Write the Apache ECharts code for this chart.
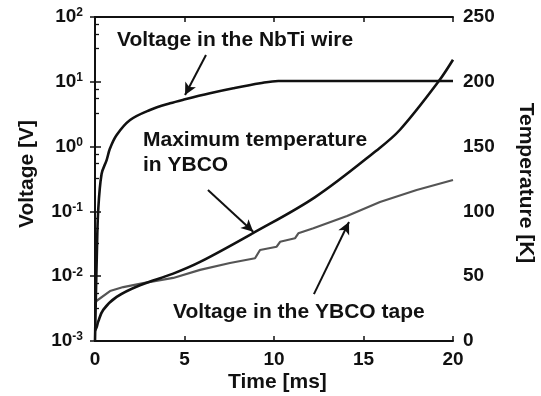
<!DOCTYPE html>
<html>
<head>
<meta charset="utf-8">
<script src="https://cdn.jsdelivr.net/npm/echarts@6/dist/echarts.min.js"></script>
<style>
  html, body { margin: 0; padding: 0; background: #ffffff; }
  #chart { width: 541px; height: 396px; }
</style>
</head>
<body>
<div id="chart"></div>
<script>
// Voltage across the NbTi wire [V] vs time [ms]
const nbtiTime    = [0, 0.05, 0.1, 0.18, 0.37, 0.65, 0.84, 1.21, 1.96, 3.07, 4.19, 5.03, 6.42, 7.73, 9.22, 10.24, 20];
const nbtiVoltage = [0.001, 0.005, 0.02, 0.105, 0.38, 0.62, 0.94, 1.51, 2.57, 3.67, 4.66, 5.37, 6.65, 7.94, 9.48, 10.3, 10.3];

// Maximum temperature in the YBCO tape [K] vs time [ms]
const tempTime   = [0, 0.1, 0.18, 0.46, 1.21, 2.51, 4.37, 5.87, 8.8, 12.3, 15.73, 17.04, 19.18, 20];
const tempKelvin = [8, 11, 15, 24, 34, 43, 52, 61, 83, 111, 147, 163, 200, 217];

// Voltage across the YBCO tape [V] vs time [ms] (stepped trace)
const ybcoTime    = [0, 0.84, 1.58, 2.7, 4.37, 5.87, 7.54, 8.94, 9.22, 10.15, 10.34, 11.17, 11.36, 12.2, 14.08, 15.92, 17.97, 20];
const ybcoVoltage = [0.004, 0.0059, 0.0068, 0.0078, 0.0094, 0.0125, 0.016, 0.0189, 0.0254, 0.0285, 0.034, 0.0385, 0.0459, 0.0549, 0.0849, 0.14, 0.214, 0.305];

// Axis ticks
const timeTicks    = [0, 5, 10, 15, 20];
const voltageRange = [1e-3, 1e2];
const tempTicks    = [0, 50, 100, 150, 200, 250];

const FONT = "'Liberation Sans', Arial, sans-serif";
const BOLD21 = "bold 21px 'Liberation Sans', Arial, sans-serif";
const INK = '#111111';
const GREY = '#555555';

const pairs = (xs, ys) => xs.map((x, i) => [x, ys[i]]);

const arrowLine = (from, to) => [
  { coord: from, symbol: 'none' },
  { coord: to, symbol: 'arrow', symbolSize: [9, 12] }
];

const markLineBase = {
  silent: true,
  animation: false,
  symbol: ['none', 'arrow'],
  label: { show: false },
  lineStyle: { color: INK, width: 2, type: 'solid' },
  emphasis: { disabled: true }
};

const chart = echarts.init(document.getElementById('chart'), null, { renderer: 'canvas' });

const option = {
  animation: false,
  backgroundColor: '#ffffff',
  grid: { left: 95, right: 88, top: 17, bottom: 55, containLabel: false },
  xAxis: [
    {
      type: 'value',
      min: timeTicks[0], max: timeTicks[timeTicks.length - 1], interval: 5,
      position: 'bottom',
      axisLine: { show: true, lineStyle: { color: INK, width: 2 } },
      axisTick: { show: true, inside: true, length: 5, lineStyle: { color: INK, width: 1.5 } },
      axisLabel: { show: true, margin: 9, color: INK, fontFamily: FONT, fontWeight: 'bold', fontSize: 19 },
      splitLine: { show: false }
    },
    {
      type: 'value',
      min: timeTicks[0], max: timeTicks[timeTicks.length - 1], interval: 5,
      position: 'top',
      axisLine: { show: true, lineStyle: { color: INK, width: 2 } },
      axisTick: { show: true, inside: true, length: 5, lineStyle: { color: INK, width: 1.5 } },
      axisLabel: { show: false },
      splitLine: { show: false }
    }
  ],
  yAxis: [
    {
      type: 'log', logBase: 10,
      min: voltageRange[0], max: voltageRange[1],
      position: 'left',
      axisLine: { show: true, lineStyle: { color: INK, width: 2 } },
      axisTick: { show: true, inside: true, length: 6, lineStyle: { color: INK, width: 1.5 } },
      minorTick: { show: true, splitNumber: 4, length: 4, lineStyle: { color: INK, width: 1.3 } },
      axisLabel: {
        show: true, margin: 12, color: INK,
        formatter: v => '{b|10}{s|' + Math.round(Math.log10(v)) + '}',
        rich: {
          b: { fontFamily: FONT, fontWeight: 'bold', fontSize: 19, color: INK, lineHeight: 20 },
          s: { fontFamily: FONT, fontWeight: 'bold', fontSize: 12, color: INK, lineHeight: 12, verticalAlign: 'top' }
        }
      },
      splitLine: { show: false },
      minorSplitLine: { show: false }
    },
    {
      type: 'value',
      min: tempTicks[0], max: tempTicks[tempTicks.length - 1], interval: 50,
      position: 'right',
      axisLine: { show: true, lineStyle: { color: INK, width: 2 } },
      axisTick: { show: true, inside: true, length: 5, lineStyle: { color: INK, width: 1.5 } },
      axisLabel: { show: true, margin: 10, color: INK, fontFamily: FONT, fontWeight: 'bold', fontSize: 19 },
      splitLine: { show: false }
    }
  ],
  series: [
    {
      name: 'Voltage in the NbTi wire',
      type: 'line',
      xAxisIndex: 0, yAxisIndex: 0,
      data: pairs(nbtiTime, nbtiVoltage),
      showSymbol: false,
      smooth: 0.35,
      lineStyle: { color: INK, width: 2.6 },
      z: 3,
      markLine: Object.assign({}, markLineBase, {
        data: [arrowLine([6.2, 25.9], [5.03, 6.25])]
      })
    },
    {
      name: 'Maximum temperature in YBCO',
      type: 'line',
      xAxisIndex: 0, yAxisIndex: 1,
      data: pairs(tempTime, tempKelvin),
      showSymbol: false,
      smooth: 0.35,
      lineStyle: { color: INK, width: 2.6 },
      z: 3,
      markLine: Object.assign({}, markLineBase, {
        data: [arrowLine([6.31, 116.5], [8.84, 84.3])]
      })
    },
    {
      name: 'Voltage in the YBCO tape',
      type: 'line',
      xAxisIndex: 0, yAxisIndex: 0,
      data: pairs(ybcoTime, ybcoVoltage),
      showSymbol: false,
      smooth: false,
      lineStyle: { color: GREY, width: 2.2 },
      z: 2,
      markLine: Object.assign({}, markLineBase, {
        data: [arrowLine([12.23, 0.0053], [14.19, 0.0686])]
      })
    }
  ],
  graphic: [
    { type: 'text', left: 117, top: 30, style: { text: 'Voltage in the NbTi wire', fill: INK, font: BOLD21 } },
    { type: 'text', left: 143, top: 130, style: { text: 'Maximum temperature', fill: INK, font: BOLD21 } },
    { type: 'text', left: 143, top: 155, style: { text: 'in YBCO', fill: INK, font: BOLD21 } },
    { type: 'text', left: 173, top: 302, style: { text: 'Voltage in the YBCO tape', fill: INK, font: BOLD21 } },
    { type: 'text', left: 228, top: 372, style: { text: 'Time [ms]', fill: INK, font: BOLD21 } },
    { type: 'text', x: 27, y: 174, rotation: Math.PI / 2, style: { text: 'Voltage [V]', fill: INK, font: BOLD21, align: 'center', verticalAlign: 'middle' } },
    { type: 'text', x: 526, y: 183, rotation: -Math.PI / 2, style: { text: 'Temperature [K]', fill: INK, font: BOLD21, align: 'center', verticalAlign: 'middle' } }
  ]
};

chart.setOption(option);
</script>
</body>
</html>
